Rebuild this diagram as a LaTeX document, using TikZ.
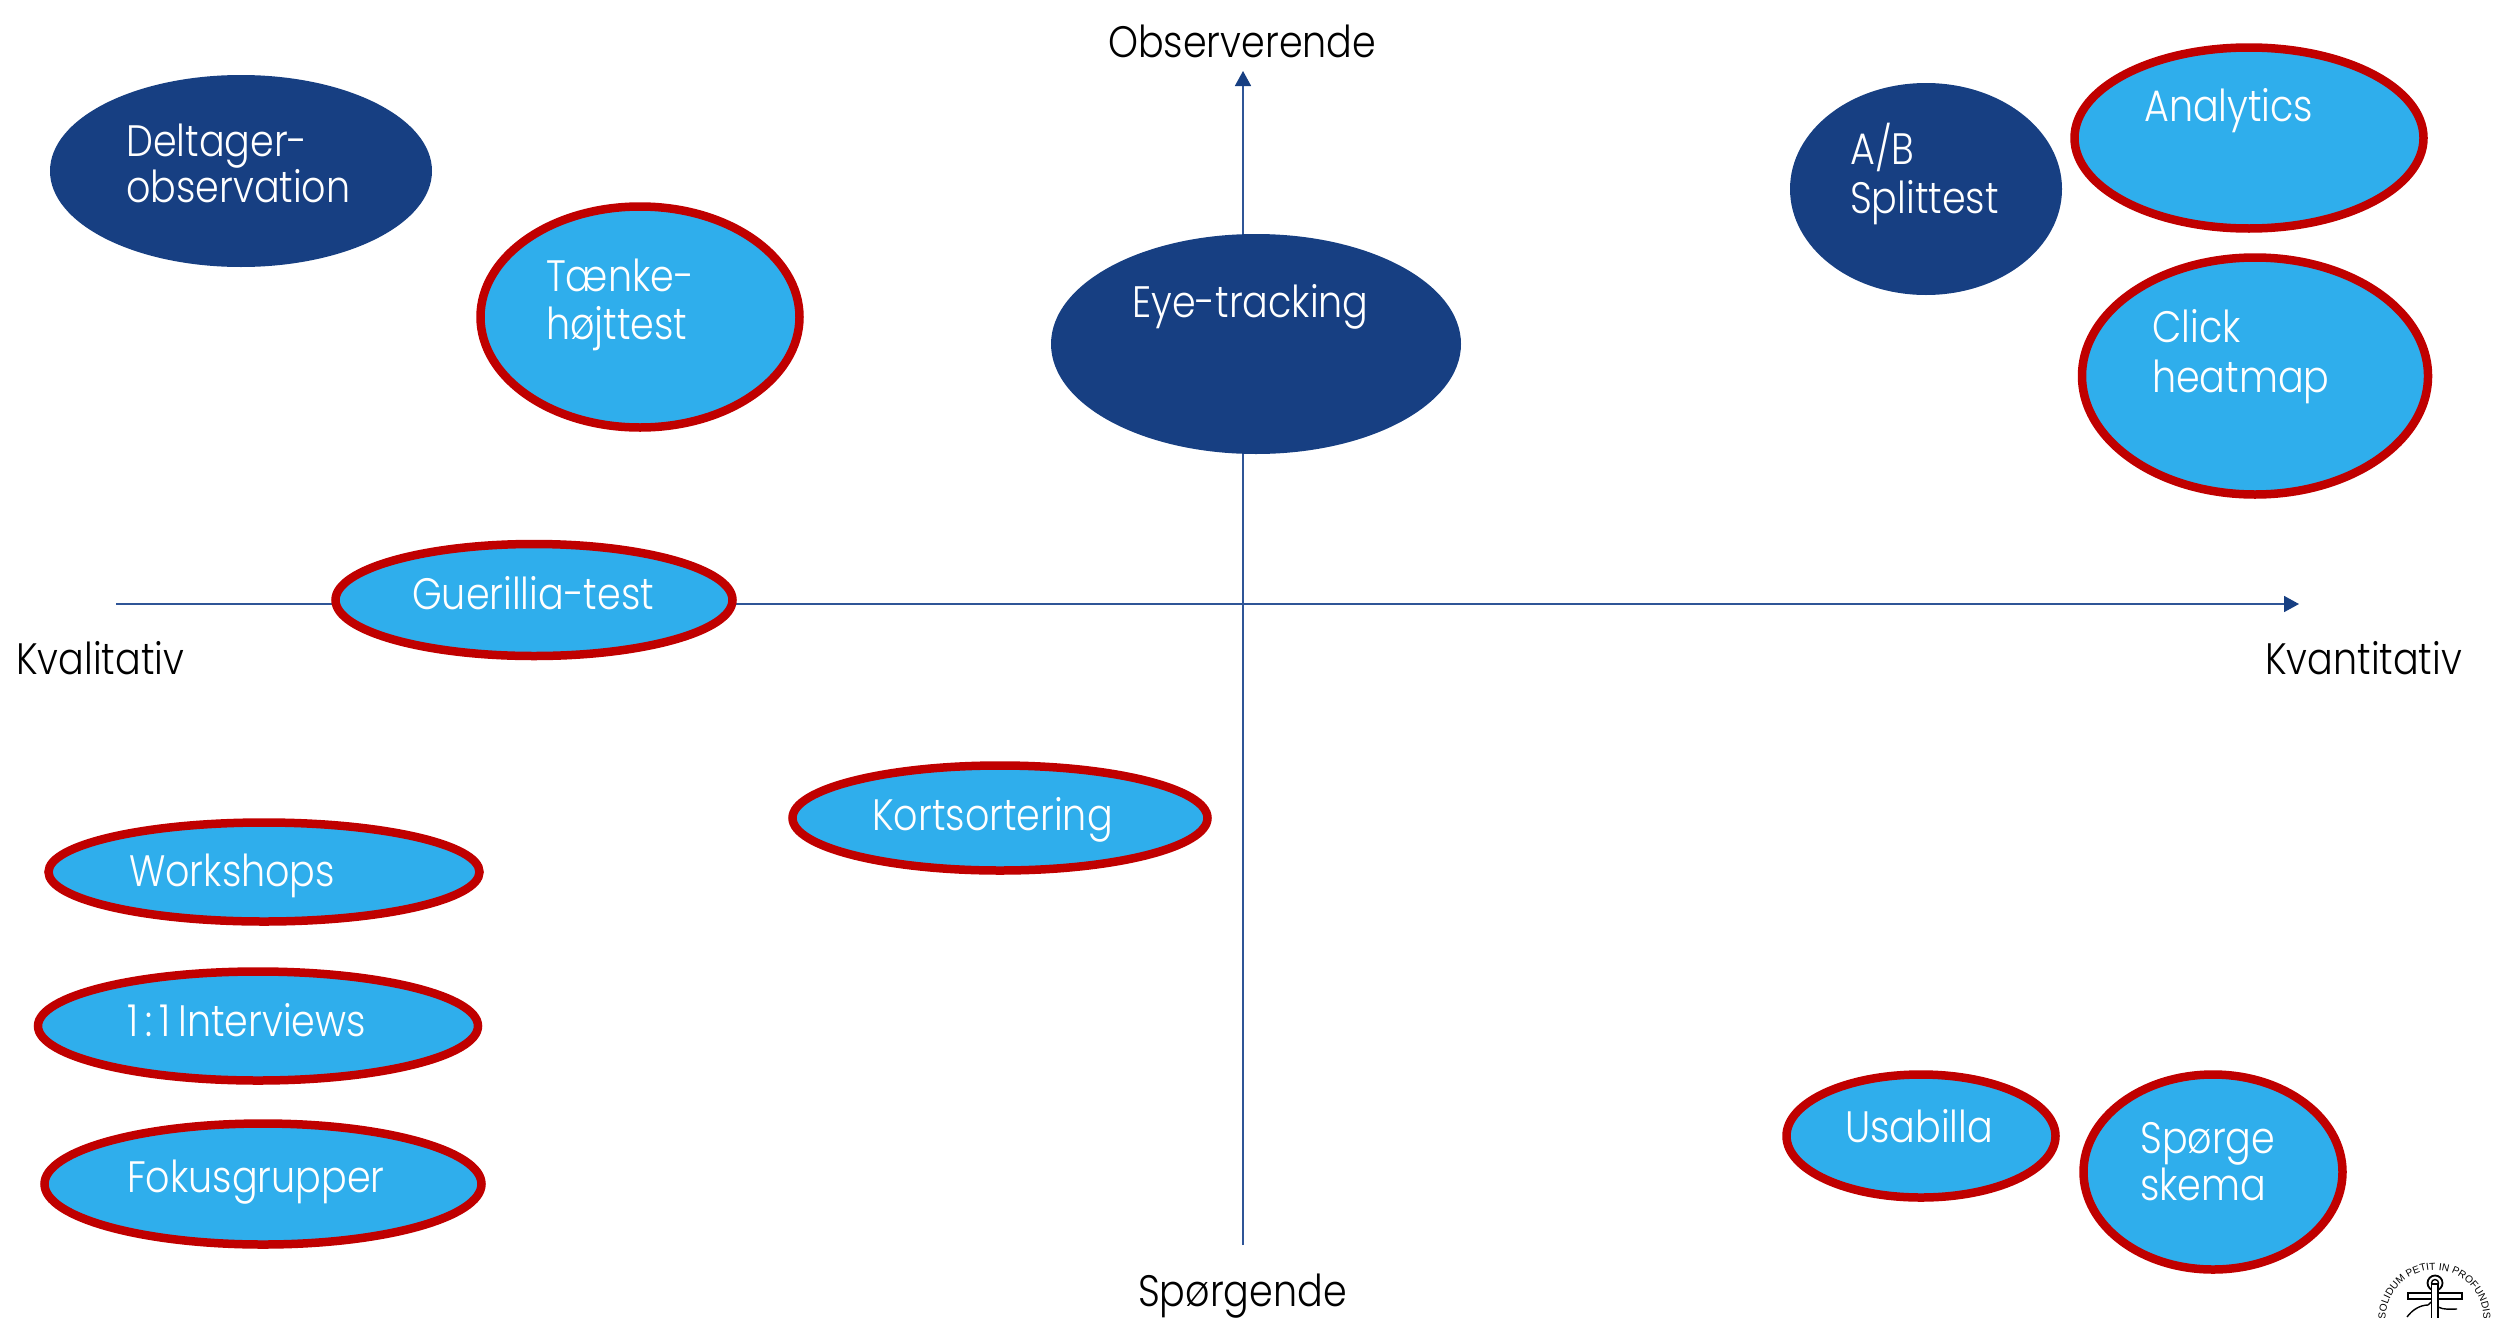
\documentclass[tikz,border=0pt]{standalone}
\usepackage{fontspec}
\setmainfont{Poppins}[UprightFont=* Light,FakeStretch=0.865]
\newfontfamily\sealfont{Liberation Sans}
\usetikzlibrary{shapes.geometric,arrows.meta,decorations.text}
\definecolor{darkblob}{HTML}{173F82}
\definecolor{lightblob}{HTML}{2FAEEC}
\definecolor{ringred}{HTML}{C00000}
\definecolor{axisblue}{HTML}{2F5597}
\tikzset{
  blob/.style={ellipse,inner sep=0pt,outer sep=0pt},
  darkell/.style={blob,fill=darkblob},
  redell/.style={blob,fill=lightblob,draw=ringred,line width=8.5pt},
  intext/.style={anchor=base west,inner sep=0pt,text=white,font=\fontsize{44}{44}\selectfont},
  axtext/.style={anchor=base west,inner sep=0pt,text=black,font=\fontsize{44}{44}\selectfont},
  axisline/.style={draw=axisblue,line width=1.6pt,-{Triangle[length=15pt,width=16pt,color=darkblob]}},
  sealline/.style={draw=black,line width=1.4pt},
}
\begin{document}
\begin{tikzpicture}[x=1pt,y=-1pt]
\useasboundingbox (0,0) rectangle (2496,1317);
\clip (0,0) rectangle (2496,1317);
\coordinate (xs) at (116,604);
\coordinate (xe) at (2299,604);
\coordinate (ys) at (1243,1245);
\coordinate (ye) at (1243,71);
\draw[axisline] (xs) -- (xe);
\draw[axisline] (ys) -- (ye);
% dark ellipses
\node[darkell,minimum width=382pt,minimum height=192pt] (del) at (241,171) {};
\node[darkell,minimum width=410pt,minimum height=220pt] (eye) at (1256,344) {};
\node[darkell,minimum width=272pt,minimum height=212pt] (ab) at (1926,189) {};
% red ellipses
\node[redell,minimum width=319pt,minimum height=221pt] (tk) at (640,317) {};
\node[redell,minimum width=349pt,minimum height=181pt] (an) at (2249,138) {};
\node[redell,minimum width=346pt,minimum height=237pt] (cl) at (2255,376) {};
\node[redell,minimum width=397pt,minimum height=112pt] (gu) at (534,600) {};
\node[redell,minimum width=415pt,minimum height=105pt] (ko) at (1000,818) {};
\node[redell,minimum width=431pt,minimum height=99pt] (wo) at (264,872) {};
\node[redell,minimum width=440pt,minimum height=109pt] (ii) at (258,1026) {};
\node[redell,minimum width=437pt,minimum height=121pt] (fo) at (263,1184) {};
\node[redell,minimum width=269pt,minimum height=123pt] (us) at (1921,1136) {};
\node[redell,minimum width=259pt,minimum height=195pt] (sp) at (2213,1172) {};
% labels in ellipses
\node[intext] (t1) at (126,156) {Deltager-};
\node[intext] (t2) at (126,202) {observation};
\node[intext] (t3) at (546,291) {Tænke-};
\node[intext] (t4) at (546,339) {højttest};
\node[intext] (t5) at (1132,317) {Eye-tracking};
\node[intext] (t6) at (1850,164) {A/B};
\node[intext] (t7) at (1850,213) {Splittest};
\node[intext] (t8) at (2144,121) {Analytics};
\node[intext] (t9) at (2152,342) {Click};
\node[intext] (t10) at (2152,392) {heatmap};
\node[intext] (t11) at (412,609) {Guerillia-test};
\node[intext] (t12) at (872,830) {Kortsortering};
\node[intext] (t13) at (129,886) {Workshops};
\node[intext] (t14) at (127,1036) {1\kern7pt:\kern7pt1\kern8ptInterviews};
\node[intext] (t15) at (127,1192) {Fokusgrupper};
\node[intext] (t16) at (1845,1142) {Usabilla};
\node[intext] (t17) at (2140,1153) {Spørge};
\node[intext] (t18) at (2140,1200) {skema};
% axis labels
\node[axtext] (a1) at (1108,57) {Observerende};
\node[axtext] (a2) at (1138,1306) {Spørgende};
\node[axtext] (a3) at (16,674) {Kvalitativ};
\node[axtext] (a4) at (2265,674) {Kvantitativ};
% seal
\coordinate (sc) at (2434.5,1319);
\path[decorate,decoration={text along path,text={|\sealfont\fontsize{10.2}{10.2}\selectfont|SOLIDUM PETIT IN PROFUNDIS},text align=center}]
  (sc) ++(160:49) arc (160:380:49);
\draw[sealline,fill=white] (2408,1293) rectangle (2462,1299);
\draw[sealline,line width=1.8pt] (2435,1283) circle (7.5);
\draw[sealline] (2435,1283) circle (3.5);
\draw[sealline,fill=white] (2431.5,1284) rectangle (2438,1320);
\draw[sealline] (2407,1317) .. controls (2412,1310) and (2420,1305) .. (2428,1305);
\draw[sealline] (2428,1305) -- (2431,1302);
\draw[sealline] (2438,1307) .. controls (2444,1310) and (2450,1309) .. (2457,1309);
\end{tikzpicture}
\end{document}
